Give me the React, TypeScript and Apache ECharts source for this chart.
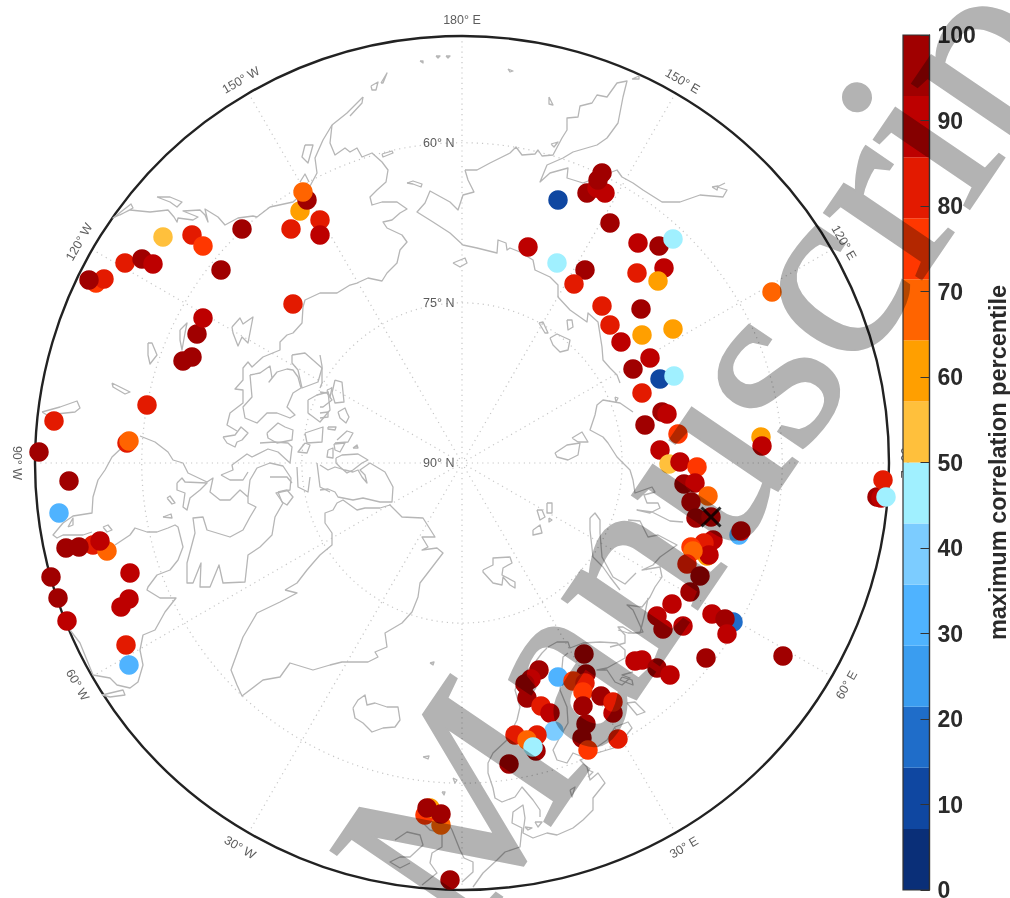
import React, { useEffect, useRef } from "react";
import * as echarts from "echarts";

// Readings are in the figure's map plane (same scale as the hidden x/y axes).
const coastlines: number[][] = [
  // Alaska / Canadian Pacific side
  [363,97,347,113,332,125,323,140,315,158,317,173,309,188,293,202,270,207,257,217,253,216,238,218,225,225,218,217,205,209,208,222,205,215,200,210,183,211,198,217,193,220,178,218,177,222,174,217,168,210,150,212,130,210,113,218,131,204,133,208,120,215],
  [363,97,362,103,350,116],
  [332,125,330,143,335,155,345,148,350,152,357,148,362,157,372,153,382,162,388,170,386,182,377,190,370,197,372,205,382,202,397,202,407,209,400,213,392,220,383,222,387,228,402,235,407,242,400,250,397,263,387,273,382,281,368,278,357,283,350,285,337,293,320,293,305,300,303,307,302,323,293,333,287,335,280,342,280,350,263,357,252,367,248,362,243,368,243,380,235,389,243,390,243,403,230,413,227,425,237,431],
  [157,197,170,197,182,202,177,207,170,202,157,197],
  [305,145,313,145,308,163,302,157,305,145],
  [300,182,305,174,309,182],
  // Canadian mainland and Hudson Bay
  [140,436,155,442,168,452,173,460,183,463,188,473,207,482,213,478,210,492,220,500,230,500,240,490,248,497,250,480,257,468,270,463,283,466,291,478,290,490,276,493,283,503,275,517,272,535,260,547,248,555,245,582,223,583,219,565,210,587,200,587,201,563,193,583,187,583,187,563,195,533,193,518,203,517,207,530,230,537,243,530,250,517,256,507,248,503,248,497],
  [129,441,112,457,105,470,98,480,93,497,92,513,73,516,63,523,53,535,57,538,63,535,83,535,92,532],
  [115,545,130,535,135,528,147,532,157,532,168,528,175,525,178,527,183,547,178,560,170,570,157,575,148,587,147,590,160,598,176,598,165,612,155,630,143,635,140,650,143,665,138,682,130,688,117,685,110,678,93,675,80,643,70,630],
  [102,695,123,690,125,695,110,697,102,695],
  [68,527,73,518,73,525,68,527],[103,527,108,525,112,530,107,532,103,527],
  [167,498,170,496,175,503,172,504,167,498],[163,517,171,514,172,518,163,517],
  [177,483,182,478,185,482,207,483,200,490,190,498,187,510,183,507,185,493,177,490,177,483],
  // Arctic Archipelago
  [250,375,260,373,270,366,272,378,269,382,277,372,287,369,293,370,298,377,301,388,293,393,287,407,295,415,290,418,277,413,267,413,257,423,245,418,243,407,252,397,250,375],
  [292,355,305,353,322,368,318,382,302,388,298,370,292,363,292,355],
  [232,327,240,318,243,324,253,317,248,343,242,337,238,346,233,333,232,327],
  [180,330,187,323,185,333,182,350,180,340,180,330],
  [148,343,152,343,157,355,150,364,148,355,148,343],
  [112,383,118,386,130,392,125,394,113,387,112,383],
  [42,412,60,407,77,401,80,408,75,412,47,415,42,412],
  [223,437,235,435,241,427,248,433,242,440,237,442,235,447,227,443,223,437],
  [221,475,233,470,232,465,247,454,252,457,268,449,278,452,290,463,292,447,288,443,275,442,260,443],
  [267,433,278,423,285,427,293,430,292,440,277,443,268,438,267,433],
  [221,475,230,480,243,480,248,472],
  [270,477,287,477,292,483],[278,492,287,490,293,497,287,505,282,502,278,492],
  [297,467,298,487,308,492,310,477],[317,463,320,487,330,492],
  [305,443,310,445,307,453,298,452,305,443],
  [305,433,323,427,322,442,307,443,305,433],
  [308,400,317,395,328,392,330,410,320,422,308,413,308,400],
  [320,355,322,366,322,383,320,388],
  [335,380,342,382,344,402,335,403,332,393,335,380],[327,390,332,388,330,397,327,390],
  [320,392,327,393,332,400,323,407,320,407],[320,413,328,412,328,417,320,418],
  [338,412,345,408,347,413,349,417,346,423,340,418,338,412],
  [328,427,336,427,335,430,328,429,328,427],
  [337,440,347,431,353,433,348,442,335,443],[334,444,345,443,340,452,335,450,334,444],
  [328,450,333,448,333,458,327,457,328,450],[353,448,357,445,358,448,353,448],
  [336,458,342,455,358,454,368,460,362,463,353,470,347,473,340,467,336,463,336,458],
  [320,490,328,489,335,492,338,497,353,500,363,498,380,502,392,502,393,487,385,472,370,463,360,470,365,475,367,483,362,477,358,470,353,472,345,470,335,467,328,470,320,465],
  // Greenland
  [285,590,297,593,280,602,257,613,243,637,231,670,237,685,242,696,263,680,280,677,290,663,313,670,330,665,342,662,368,662,378,657,375,652,387,647,385,633,402,623,412,612,418,597,420,583,443,553,437,548,422,550,428,547,422,537,435,537,423,518,402,517,390,505,380,508,365,508,357,510,343,500,337,503,333,510,325,513,325,523,332,533,332,545,320,555,313,563,307,570,297,583,285,590],
  // Chukotka, Kamchatka and the Siberian coast
  [465,170,477,170,490,163,510,153,516,147,522,155,535,154,538,150,542,156,553,155,562,138,567,130,567,118,578,117,580,106,592,103,597,95,607,97,617,83,627,81,623,97,618,123,607,138,597,145,573,152,563,158,547,165,540,182,550,173,568,168,567,178,583,183,617,170,622,177,633,183,643,190,662,202,680,202,700,195,723,197,727,190,717,187,725,183],
  [465,170,468,180,474,192,463,195,458,210,450,202,430,191,425,203,417,212,433,222,450,233,463,245,477,248,497,253,498,240,506,243,507,250,510,248,520,252,533,260,535,270,550,277,558,285,558,297,570,310,587,322,588,313,598,322,602,347,603,360,610,368,617,375,620,383],
  [633,412,620,403,603,400,597,405,595,415,590,430,603,437,608,443,617,457,630,470,633,480,635,493,652,487,655,492,644,495,647,503,658,503,660,508,650,513,637,510,652,512,670,521,683,522],
  [628,520,640,521,648,537,658,535,677,545,660,557,653,565,642,570,660,567,662,577,655,587,650,597,642,607,627,605,633,610,643,632,633,633,623,627,618,627,625,635,625,643,610,647],
  [712,187,718,186,717,190,712,187],
  [615,397,618,398,616,402,615,397],
  // Islands of the Bering Sea and the Arctic Ocean
  [420,61,423,61,423,63,420,61],[436,56,440,56,438,58,436,56],[446,56,450,56,448,58,446,56],
  [508,69,513,71,510,72,508,69],[549,97,553,105,549,104,549,97],[632,79,639,76,639,79,632,79],
  [551,144,558,142,554,147,551,144],[453,263,465,258,467,263,460,267,453,263],
  [407,183,413,181,422,184,421,187,413,184,407,183],[382,154,392,151,393,153,383,157,382,154],
  [371,86,378,82,376,90,372,90,371,86],[381,83,387,73,383,83,381,83],
  [483,570,493,565,493,558,510,557,512,563,503,568,502,575,515,582,515,588,510,585,503,577,502,585,493,583,483,572,483,570],
  [537,510,542,510,545,517,540,520,537,510],[547,503,552,503,552,513,547,513,547,503],
  [533,530,540,525,542,533,533,535,533,530],[549,518,552,520,549,522,549,518],
  [590,518,595,513,600,520,600,533,602,557,613,577,625,584,636,573],
  [590,518,590,530,593,557,603,567,610,577,620,590],
  [555,453,567,445,580,443,578,455,568,460,557,457,555,453],
  [572,438,582,432,588,442,578,442,572,438],
  [539,323,543,322,548,333,545,333,539,323],
  [550,338,557,334,570,340,568,350,560,352,553,345,550,338],
  [567,320,572,320,573,327,568,330,567,320],
  // Iceland and small North Atlantic islands
  [353,708,358,700,365,695,367,705,375,703,387,707,398,707,400,720,395,727,383,728,372,732,363,723,355,718,353,708],
  [430,663,434,662,433,665,430,663],[423,757,429,756,428,759,423,757],[453,778,457,780,455,783,453,778],[442,792,445,792,444,795,442,792],
  // British Isles
  [395,840,407,832,420,835,423,845,410,857,400,857,390,862,400,868,410,863],
  [423,823,430,830,442,833,442,847,432,853,430,863,437,873,422,885],
  [448,823,452,830,460,850,464,858,473,862,473,872,462,882],
  // Scandinavia and northern Europe
  [547,648,542,653,533,665,520,677,515,690,520,707,517,720,507,740,493,753,488,763,488,773,493,788,495,798,502,802,515,797,522,787,533,800,540,810,540,817],
  [473,887,483,873,497,860,505,852,520,847,522,828,512,823,513,812,523,805,525,818,523,833,533,838,547,833,557,835,573,828,583,820,593,810,593,798,605,783,598,773,590,780,587,767,580,760,597,753,617,747,632,728,628,722,615,727,607,740,597,747,583,757,573,753,567,763,557,760,553,750,560,737,568,723,567,707,560,690,563,657,568,653],
  [548,647,557,642,568,642,570,648,583,643,600,642,617,643,625,650,625,658,607,668,597,670,607,670,615,682,622,685,630,678,622,675,633,672],
  [618,630,628,633,640,633,645,613,648,598],
  [570,790,575,787,572,797,570,790],[588,770,593,772,588,777],
  [627,703,635,702,645,712,637,715,627,703],
  [525,827,532,828,528,830,525,827],[535,822,542,822,538,827,535,822],
  [622,677,632,680,633,685,620,680,622,677],
];

// [map x, map y, maximum correlation percentile], in drawing order
const stationPoints: number[][] = [
  [96,283,75],[104,279,82],[89,280,96],[125,263,82],[142,259,96],[153,264,89],[163,237,54],[192,235,82],[203,246,75],[221,270,96],[242,229,96],[291,229,82],
  [300,211,61],[307,200,96],[303,192,68],[320,220,82],[320,235,89],[293,304,82],[197,334,96],[203,318,89],[192,357,96],[183,361,96],[147,405,82],[127,443,82],[129,441,68],
  [54,421,82],[39,452,96],[69,481,96],[59,513,32],[66,548,96],[93,545,82],[107,551,68],[100,541,89],[79,547,96],[130,573,89],[51,577,96],[58,598,96],[129,599,89],[121,607,89],[67,621,89],[126,645,82],[129,665,32],
  [587,193,96],[597,188,89],[605,193,89],[598,180,96],[602,173,96],[558,200,11],[610,223,96],[638,243,89],[659,246,96],[673,239,46],[528,247,89],[557,263,46],[585,270,96],[574,284,82],
  [637,273,82],[664,268,89],[658,281,61],[602,306,82],[641,309,96],[610,325,82],[642,335,61],[673,329,61],[772,292,68],[621,342,89],[650,358,89],[633,369,96],[660,379,11],[674,376,46],[642,393,82],
  [662,412,96],[667,414,89],[645,425,96],[678,434,75],[660,450,89],[669,464,54],[680,462,89],[697,467,75],[761,437,61],[762,446,89],
  [684,484,96],[695,483,89],[708,496,68],[691,502,89],[696,518,96],[711,517,89],[739,535,32],[741,531,89],[713,540,89],[707,556,61],[704,543,82],[691,547,75],[709,555,89],[693,551,68],[687,564,82],[700,576,96],[690,592,96],
  [672,604,89],[657,616,89],[663,629,89],[683,626,89],[733,622,18],[712,614,89],[725,619,96],[727,634,89],[706,658,96],[783,656,96],[635,661,89],[642,660,89],[657,668,96],[670,675,89],
  [877,497,96],[881,498,89],[883,480,82],[886,497,46],
  [584,654,96],[539,670,96],[531,679,89],[525,684,96],[527,698,96],[558,677,32],[586,674,96],[573,681,75],[585,683,82],[583,692,75],[601,696,96],[613,713,89],[613,702,82],[583,706,96],[541,706,82],[550,713,89],[586,724,96],[582,738,96],[588,750,75],[618,739,82],[554,731,39],[515,735,82],
  [537,735,82],[536,751,96],[527,740,68],[533,747,46],[509,764,96],
  [425,815,75],[430,808,61],[441,825,68],[441,814,96],[427,808,96],[450,880,96],
];

const selectedStation: number[][] = [[711, 517]];

const colorbarColors = ["#0a2f78","#0f47a1","#1f6dc9","#3a9df0","#4fb3ff","#7cccff","#a0f0ff","#ffc03c","#ff9f00","#ff6400","#ff3700","#e31a00","#bd0000","#a00000"];
const colorbarName = "maximum correlation percentile";

// [colatitude, longitude, text, rotation]
const meridianLabels: [number, number, string, number][] = [
  [41.5,180,"180° E",0],[41.3,150,"150° E",-30],[41.3,120,"120° E",-60],[41.5,90,"90° E",-90],[41.6,60,"60° E",60],[41.6,30,"30° E",30],
  [41.6,-30,"30° W",-30],[41.6,-60,"60° W",-60],[41.7,-90,"90° W",-90],[41.4,-120,"120° W",60],[41.4,-150,"150° W",30],
];
const parallelLabels: [number, number, string][] = [[30,180,"60° N"],[15,180,"75° N"],[0,180,"90° N"]];
const watermarkText = "Manuscript";

const SANS = "'Liberation Sans', Arial, sans-serif";
const GRATICULE = { color: "#c6c6c6", type: [1.2, 4], width: 1.2 };

function pairs(flat: number[]): number[][] {
  const out: number[][] = [];
  for (let i = 0; i + 1 < flat.length; i += 2) out.push([flat[i], flat[i + 1]]);
  return out;
}

export default function App() {
  const ref = useRef<HTMLDivElement>(null);
  useEffect(() => {
    document.body.style.margin = "0";
    const chart = echarts.init(ref.current!, undefined, { renderer: "svg" });
    const binSize = 100 / colorbarColors.length;
    const colorOf = (p: any) => colorbarColors[Math.min(colorbarColors.length - 1, Math.floor(p.value[2] / binSize))];
    chart.setOption({
      animation: false,
      backgroundColor: "#ffffff",
      polar: { center: [462, 463], radius: 427 },
      angleAxis: {
        type: "value", min: -180, max: 180, interval: 30, startAngle: 90, clockwise: false,
        axisLine: { show: true, lineStyle: { color: "#222222", width: 2.4 } },
        axisTick: { show: false }, axisLabel: { show: false },
        splitLine: { show: true, lineStyle: GRATICULE },
      },
      radiusAxis: {
        type: "value", min: 0, max: 40, interval: 15,
        axisLine: { show: false }, axisTick: { show: false }, axisLabel: { show: false },
        splitLine: { show: true, lineStyle: GRATICULE },
      },
      grid: [
        { left: 35, top: 36, width: 854, height: 854, outerBoundsMode: "none" },
        { left: 903, top: 35, width: 26.5, height: 855, outerBoundsMode: "none" },
      ],
      xAxis: [
        { type: "value", gridIndex: 0, min: 35, max: 889, show: false },
        { type: "category", gridIndex: 1, data: ["bar"], show: false },
      ],
      yAxis: [
        { type: "value", gridIndex: 0, min: 36, max: 890, inverse: true, show: false },
        {
          type: "value", gridIndex: 1, min: 0, max: 100, interval: 10, position: "right", z: 6,
          axisLine: { show: true, lineStyle: { color: "#222222", width: 1.2 } },
          axisTick: { show: true, inside: true, length: 9, lineStyle: { color: "#333333", width: 1 } },
          splitLine: { show: false },
          axisLabel: { show: true, margin: 8, color: "#2a2a2a", fontFamily: SANS, fontWeight: "bold", fontSize: 23 },
          name: colorbarName, nameLocation: "middle", nameRotate: 90, nameGap: 56,
          nameTextStyle: { color: "#2a2a2a", fontFamily: SANS, fontWeight: "bold", fontSize: 23.5 },
        },
      ],
      series: [
        {
          type: "scatter", coordinateSystem: "polar", polarIndex: 0, symbolSize: 1, silent: true, clip: false, z: 1,
          itemStyle: { color: "transparent" },
          data: meridianLabels.map((m) => ({
            value: [m[0], m[1]],
            label: { show: true, position: "inside", formatter: m[2], rotate: m[3], color: "#333333", fontFamily: SANS, fontSize: 12.5 },
          })),
        },
        {
          type: "scatter", coordinateSystem: "polar", polarIndex: 0, symbolSize: 1, silent: true, clip: false, z: 1,
          itemStyle: { color: "transparent" },
          data: parallelLabels.map((m) => ({
            value: [m[0], m[1]],
            label: { show: true, position: "left", distance: 7, formatter: m[2], color: "#333333", fontFamily: SANS, fontSize: 12.5 },
          })),
        },
        ...coastlines.map((c) => ({
          type: "line", xAxisIndex: 0, yAxisIndex: 0, data: pairs(c), showSymbol: false, silent: true, clip: false, z: 2,
          lineStyle: { color: "#b6b6b6", width: 1.3, join: "round" },
        })),
        {
          type: "scatter", xAxisIndex: 0, yAxisIndex: 0, data: stationPoints, symbol: "circle", symbolSize: 19.5, clip: false, z: 3, silent: true,
          itemStyle: { color: colorOf, opacity: 1 },
        },
        {
          type: "scatter", xAxisIndex: 0, yAxisIndex: 0, data: selectedStation, symbol: "path://M0,0L10,10M10,0L0,10", symbolSize: 19, clip: false, z: 4, silent: true,
          itemStyle: { color: "none", borderColor: "#000000", borderWidth: 3 },
        },
        ...colorbarColors.map((color) => ({
          type: "bar", xAxisIndex: 1, yAxisIndex: 1, stack: "colorbar", barWidth: "100%", data: [binSize], silent: true, z: 5,
          itemStyle: { color },
        })),
      ],
      graphic: [
        {
          type: "rect", silent: true, z: 20,
          shape: { x: 903, y: 35, width: 26.5, height: 855 },
          style: { fill: "none", stroke: "#333333", lineWidth: 1.2 },
        },
        {
          type: "text", silent: true, z: 30, x: 394, y: 902, rotation: (55.8 * Math.PI) / 180,
          style: { text: watermarkText, fill: "#b3b3b3", stroke: "#b3b3b3", lineWidth: 3, font: "255px 'Liberation Serif', 'Times New Roman', serif", textAlign: "left", textVerticalAlign: "middle", blend: "multiply" },
        },
      ],
    });
    const svg = ref.current!.querySelector("svg");
    if (svg) {
      svg.querySelectorAll("text").forEach((t) => {
        if (t.textContent === watermarkText) (t as SVGTextElement).style.mixBlendMode = "multiply";
      });
    }
    return () => chart.dispose();
  }, []);
  return <div ref={ref} style={{ position: "fixed", left: 0, top: 0, width: 1010, height: 898 }} />;
}
